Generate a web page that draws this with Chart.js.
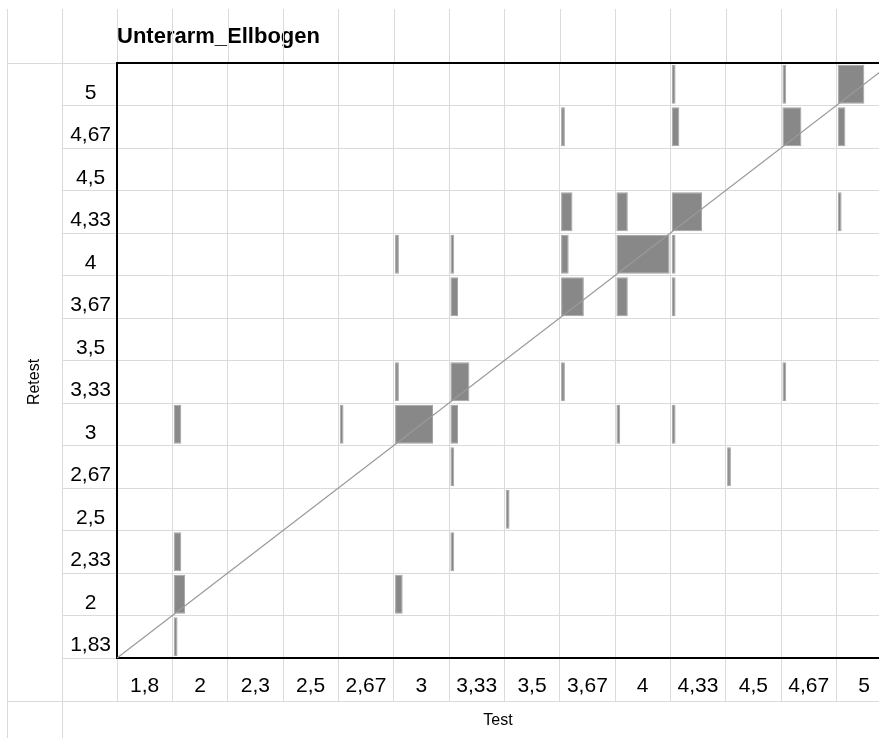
<!DOCTYPE html>
<html>
<head>
<meta charset="utf-8">
<script src="https://cdn.jsdelivr.net/npm/chart.js@4.4.1/dist/chart.umd.min.js"></script>
<style>
  html, body { margin: 0; padding: 0; background: #ffffff; overflow: hidden; }
  #wrap { width: 879px; height: 738px; }
</style>
</head>
<body>
<div id="wrap"><canvas id="c" width="879" height="738"></canvas></div>
<script>
// ---------------- data ----------------
const chartTitle = 'Unterarm_Ellbogen';
const xTitle = 'Test';
const yTitle = 'Retest';

// Test categories (x), left to right
const testLabels = ['1,8', '2', '2,3', '2,5', '2,67', '3', '3,33', '3,5', '3,67', '4', '4,33', '4,5', '4,67', '5'];
// Retest categories (y), bottom to top
const retestLabels = ['1,83', '2', '2,33', '2,5', '2,67', '3', '3,33', '3,5', '3,67', '4', '4,33', '4,5', '4,67', '5'];

// counts for each Retest row, one entry per Test column (order of testLabels)
const retest_1_83 = [0, 1, 0, 0, 0, 0, 0, 0, 0, 0, 0, 0, 0, 0];
const retest_2    = [0, 3, 0, 0, 0, 2, 0, 0, 0, 0, 0, 0, 0, 0];
const retest_2_33 = [0, 2, 0, 0, 0, 0, 1, 0, 0, 0, 0, 0, 0, 0];
const retest_2_5  = [0, 0, 0, 0, 0, 0, 0, 1, 0, 0, 0, 0, 0, 0];
const retest_2_67 = [0, 0, 0, 0, 0, 0, 1, 0, 0, 0, 0, 1, 0, 0];
const retest_3    = [0, 2, 0, 0, 1, 10, 2, 0, 0, 1, 1, 0, 0, 0];
const retest_3_33 = [0, 0, 0, 0, 0, 1, 5, 0, 1, 0, 0, 0, 1, 0];
const retest_3_5  = [0, 0, 0, 0, 0, 0, 0, 0, 0, 0, 0, 0, 0, 0];
const retest_3_67 = [0, 0, 0, 0, 0, 0, 2, 0, 6, 3, 1, 0, 0, 0];
const retest_4    = [0, 0, 0, 0, 0, 1, 1, 0, 2, 14, 1, 0, 0, 0];
const retest_4_33 = [0, 0, 0, 0, 0, 0, 0, 0, 3, 3, 8, 0, 0, 1];
const retest_4_5  = [0, 0, 0, 0, 0, 0, 0, 0, 0, 0, 0, 0, 0, 0];
const retest_4_67 = [0, 0, 0, 0, 0, 0, 0, 0, 1, 0, 2, 0, 5, 2];
const retest_5    = [0, 0, 0, 0, 0, 0, 0, 0, 0, 0, 1, 0, 1, 7];

const rows = [retest_1_83, retest_2, retest_2_33, retest_2_5, retest_2_67, retest_3, retest_3_33,
              retest_3_5, retest_3_67, retest_4, retest_4_33, retest_4_5, retest_4_67, retest_5];

// ---------------- build ----------------
const maxCount = Math.max(...rows.flat());
const FILL = 0.96;      // widest tile fills this share of a cell
const INSET = 0.025;    // small gap between cell edge and tile
const tiles = [];
rows.forEach((row, r) => row.forEach((n, c) => {
  if (n > 0) tiles.push({ y: r + 0.5, x: [c + INSET, c + INSET + n / maxCount * FILL] });
}));
const diagonal = [{ x: 0, y: 0 }, { x: testLabels.length, y: retestLabels.length }];

const GRID = '#dadada';
const FONT = "'Liberation Sans', Arial, sans-serif";
const X_VISIBLE = 13.77;       // the table is cut at the right edge of the picture
const COL_PX = 55.34, ROW_PX = 42.5;

const tableFrame = {
  id: 'tableFrame',
  afterDraw(chart) {
    const { ctx, chartArea: ca, scales: { x, y } } = chart;
    const p = v => Math.round(v) + 0.5;
    const yTickEnd = ca.left - y.options.grid.tickLength;
    const xTickEnd = ca.bottom + x.options.grid.tickLength;
    const OUTER = 7, TOP = 9;
    ctx.save();
    ctx.strokeStyle = GRID;
    ctx.lineWidth = 1;
    ctx.beginPath();
    [OUTER, yTickEnd].forEach(xx => { ctx.moveTo(p(xx), TOP); ctx.lineTo(p(xx), chart.height); });
    x.ticks.forEach(t => { const px = p(x.getPixelForValue(t.value)); ctx.moveTo(px, TOP); ctx.lineTo(px, ca.top - 1); });
    ctx.moveTo(OUTER, p(ca.top)); ctx.lineTo(yTickEnd, p(ca.top));
    ctx.moveTo(OUTER, p(xTickEnd)); ctx.lineTo(chart.width, p(xTickEnd));
    ctx.stroke();
    ctx.fillStyle = '#000';
    ctx.font = '16px ' + FONT;
    ctx.textAlign = 'center';
    ctx.textBaseline = 'middle';
    ctx.translate((OUTER + yTickEnd) / 2, (ca.top + xTickEnd) / 2);
    ctx.rotate(-Math.PI / 2);
    ctx.fillText(yTitle, 0, 0);
    ctx.restore();
  }
};

new Chart(document.getElementById('c'), {
  type: 'bar',
  data: {
    datasets: [
      {
        type: 'bar',
        indexAxis: 'y',
        data: tiles,
        backgroundColor: '#888888',
        borderColor: '#a4a4a4',
        borderWidth: 1,
        borderSkipped: false,
        grouped: false,
        barPercentage: 0.92,
        categoryPercentage: 1,
        xAxisID: 'x',
        yAxisID: 'y',
        order: 2
      },
      {
        type: 'line',
        data: diagonal,
        borderColor: '#9a9a9a',
        borderWidth: 1.3,
        pointRadius: 0,
        fill: false,
        xAxisID: 'x',
        yAxisID: 'y',
        order: 1
      }
    ]
  },
  options: {
    responsive: false,
    animation: false,
    events: [],
    layout: { padding: 0 },
    plugins: {
      legend: { display: false },
      tooltip: { enabled: false },
      title: {
        display: true,
        text: chartTitle,
        align: 'start',
        fullSize: false,
        color: '#000',
        font: { family: FONT, size: 22, weight: 'bold' },
        padding: { top: 24, bottom: 12.6 }
      }
    },
    scales: {
      x: {
        type: 'linear',
        position: 'bottom',
        offset: false,
        min: 0,
        max: X_VISIBLE,
        afterBuildTicks: s => { s.ticks = testLabels.map((_, i) => ({ value: i })); },
        afterFit: s => { s.height = 80; },
        grid: { offset: false, color: GRID, lineWidth: 1, drawTicks: true, tickLength: 43, tickColor: GRID },
        border: { display: true, color: '#000', width: 2 },
        ticks: {
          autoSkip: false, maxRotation: 0, minRotation: 0,
          labelOffset: COL_PX / 2, padding: -27,
          color: '#000', font: { family: FONT, size: 21 },
          callback: v => testLabels[v] ?? ''
        },
        title: { display: true, text: xTitle, color: '#000', font: { family: FONT, size: 16 }, padding: { top: 0, bottom: 8 } }
      },
      xTop: {
        type: 'linear',
        position: 'top',
        offset: false,
        min: 0, max: 1,
        afterFit: s => { s.height = 0; },
        grid: { display: true, color: 'rgba(0,0,0,0)', drawTicks: false },
        border: { display: true, color: '#000', width: 2 },
        ticks: { display: false }
      },
      y: {
        type: 'linear',
        position: 'left',
        offset: false,
        min: 0,
        max: retestLabels.length,
        afterBuildTicks: s => { s.ticks = [...Array(retestLabels.length + 1).keys()].map(v => ({ value: v })); },
        afterFit: s => { s.width = 117; },
        grid: { offset: false, color: GRID, lineWidth: 1, drawTicks: true, tickLength: 55, tickColor: GRID },
        border: { display: true, color: '#000', width: 2 },
        ticks: {
          autoSkip: false, crossAlign: 'center',
          padding: -49, labelOffset: -ROW_PX / 2 + 8.5,
          color: '#000', font: { family: FONT, size: 21 },
          callback: v => retestLabels[v] ?? ''
        }
      }
    }
  },
  plugins: [tableFrame]
});
</script>
</body>
</html>
